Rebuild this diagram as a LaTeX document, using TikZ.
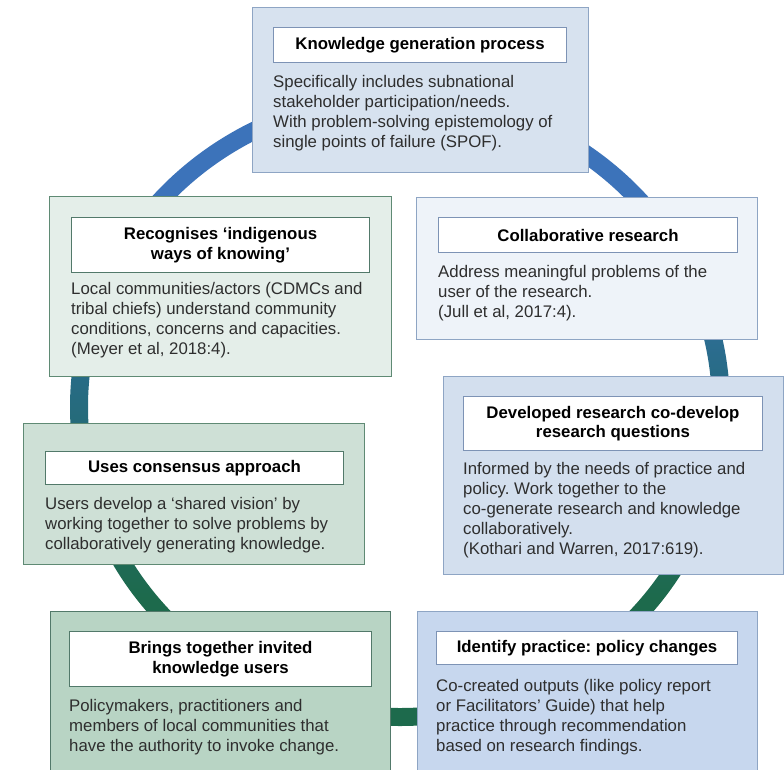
\documentclass[tikz,border=0pt]{standalone}
\usepackage{fontspec}
\setmainfont{Liberation Sans}
\usetikzlibrary{positioning}
\definecolor{ringblue}{HTML}{3C73BA}
\definecolor{ringteal}{HTML}{276B84}
\definecolor{ringgreen}{HTML}{1D6A4C}
\definecolor{edgeblue}{HTML}{8EA5C4}
\definecolor{ttlblue}{HTML}{7D93B5}
\definecolor{edgegreen}{HTML}{5F8A74}
\definecolor{ttlgreen}{HTML}{52796A}
\definecolor{bgkgp}{HTML}{D7E2EF}
\definecolor{bgcollab}{HTML}{EEF3F9}
\definecolor{bgcodev}{HTML}{D3DFEE}
\definecolor{bgpolicy}{HTML}{C7D7EE}
\definecolor{bgindig}{HTML}{E4EEE9}
\definecolor{bgconsens}{HTML}{CEE0D6}
\definecolor{bginvite}{HTML}{B8D4C4}
\definecolor{bodygrey}{HTML}{2E2E2E}
\pgfdeclareverticalshading{ringshade}{100bp}{color(0bp)=(ringgreen); color(35bp)=(ringgreen);
  color(52bp)=(ringteal); color(66bp)=(ringblue); color(100bp)=(ringblue)}
\frenchspacing
\tikzset{
  panel/.style   = {line width=1.2pt, anchor=north west, inner sep=0pt},
  ttlbox/.style  = {draw, fill=white, line width=1pt, anchor=north west, inner sep=0pt,
                    font=\fontsize{16.8}{19.5}\selectfont\bfseries, align=center},
  bodytxt/.style = {anchor=north west, inner sep=0pt, align=left, text=bodygrey,
                    font=\fontsize{16.8}{20}\selectfont},
}

\begin{document}
\begin{tikzpicture}[x=1pt, y=-1pt]
    \useasboundingbox (0,0) rectangle (784,769);
    % Ring behind the panels
    \coordinate (hub) at (400,407);
    \shade[shading=ringshade, even odd rule]
      (hub) ellipse (330pt and 319pt) (hub) ellipse (312pt and 301pt);

    % Top : knowledge generation
    \node[panel, draw=edgeblue, fill=bgkgp, minimum width=336pt, minimum height=165pt] (kgp) at (252,7) {};
    \node[ttlbox, draw=ttlblue, minimum width=293pt, minimum height=35pt] (kgpT) at (273,27) {Knowledge generation process};
    \node[bodytxt] (kgpB) at (273,75.5) {Specifically includes subnational\\stakeholder participation/needs.\\With problem-solving epistemology of\\single points of failure (SPOF).};

    % Right column
    \node[panel, draw=edgeblue, fill=bgcollab, minimum width=341pt, minimum height=142pt] (collab) at (416,197) {};
    \node[ttlbox, draw=ttlblue, minimum width=299pt, minimum height=35pt] (collabT) at (438,217) {Collaborative research};
    \node[bodytxt] (collabB) at (438,265.5) {Address meaningful problems of the\\user of the research.\\(Jull et al, 2017:4).};

    \node[panel, draw=edgeblue, fill=bgcodev, minimum width=340pt, minimum height=198pt] (codev) at (443,376) {};
    \node[ttlbox, draw=ttlblue, minimum width=299pt, minimum height=54pt] (codevT) at (463,396) {Developed research co-develop\\research questions};
    \node[bodytxt] (codevB) at (463,462.5) {Informed by the needs of practice and\\policy. Work together to the\\co-generate research and knowledge\\collaboratively.\\(Kothari and Warren, 2017:619).};

    \node[panel, draw=edgeblue, fill=bgpolicy, minimum width=340pt, minimum height=170pt] (policy) at (417,611) {};
    \node[ttlbox, draw=ttlblue, minimum width=301pt, minimum height=33pt] (policyT) at (436,631) {Identify practice: policy changes};
    \node[bodytxt] (policyB) at (436,679.5) {Co-created outputs (like policy report\\or Facilitators’ Guide) that help\\practice through recommendation\\based on research findings.};

    % Left column
    \node[panel, draw=edgegreen, fill=bgindig, minimum width=342pt, minimum height=180pt] (indig) at (49,196) {};
    \node[ttlbox, draw=ttlgreen, minimum width=298pt, minimum height=55pt] (indigT) at (71,217) {Recognises ‘indigenous\\ways of knowing’};
    \node[bodytxt] (indigB) at (71,282.5) {Local communities/actors (CDMCs and\\tribal chiefs) understand community\\conditions, concerns and capacities.\\(Meyer et al, 2018:4).};

    \node[panel, draw=edgegreen, fill=bgconsens, minimum width=341pt, minimum height=141pt] (consens) at (23,423) {};
    \node[ttlbox, draw=ttlgreen, minimum width=298pt, minimum height=33pt] (consensT) at (45,451) {Uses consensus approach};
    \node[bodytxt] (consensB) at (45,497.5) {Users develop a ‘shared vision’ by\\working together to solve problems by\\collaboratively generating knowledge.};

    \node[panel, draw=ttlgreen, fill=bginvite, minimum width=340pt, minimum height=170pt] (invite) at (50,611) {};
    \node[ttlbox, draw=ttlgreen, minimum width=302pt, minimum height=55pt] (inviteT) at (69,631) {Brings together invited\\knowledge users};
    \node[bodytxt] (inviteB) at (69,699.5) {Policymakers, practitioners and\\members of local communities that\\have the authority to invoke change.};
  \end{tikzpicture}
\end{document}
